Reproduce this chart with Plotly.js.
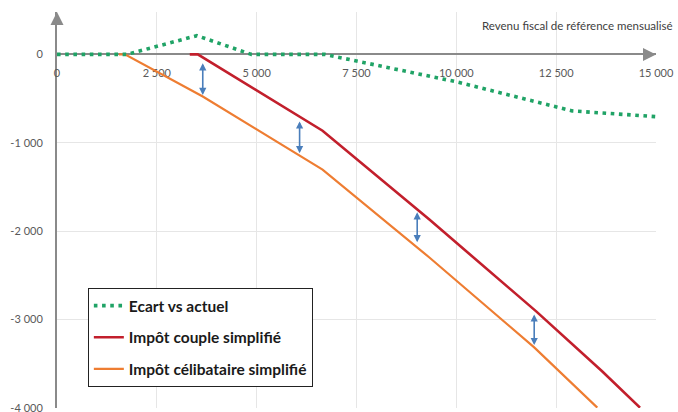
<!DOCTYPE html>
<html>
<head>
<meta charset="utf-8">
<script src="https://cdn.plot.ly/plotly-3.0.1.min.js"></script>
<style>html,body{margin:0;padding:0;background:#fff;}#chart{width:678px;height:412px;}</style>
</head>
<body>
<div id="chart"></div>
<script>
// Data
const ecartX = [0, 1750, 3500, 4870, 6700, 10000, 12900, 15000];
const ecartY = [0, 0, 212, 0, 0, -310, -640, -705];

const coupleX = [3325, 3525, 6650, 9325, 12000, 13650, 14600];
const coupleY = [0, 0, -864, -1870, -2910, -3588, -4000];

const celibX = [1550, 1700, 3650, 6650, 9325, 11950, 13530];
const celibY = [0, 0, -477, -1305, -2300, -3317, -4000];

// vertical double arrows between the two tax lines
const gapX = [3650, 6075, 9020, 11950];
const gapTop = [-100, -759, -1788, -2944];
const gapBottom = [-477, -1136, -2145, -3309];

const xTickVals = [0, 2500, 5000, 7500, 10000, 12500, 15000];
const xTickText = ['0', '2 500', '5 000', '7 500', '10 000', '12 500', '15 000'];
const yTickVals = [0, -1000, -2000, -3000, -4000];
const yTickText = ['0', '-1 000', '-2 000', '-3 000', '-4 000'];

const seriesNames = ['Ecart vs actuel', 'Impôt couple simplifié', 'Impôt célibataire simplifié'];
const axisTitle = 'Revenu fiscal de référence mensualisé';

const xRange = [0, 15000];
const yRange = [-4004, 480];

const FONT = 'Lato, "Open Sans", sans-serif';
const axisGray = '#8a8a8a';

const traces = [
  {x: ecartX, y: ecartY, name: seriesNames[0], mode: 'lines', legendgroup: 'a',
   line: {color: '#20a366', width: 3.6, dash: '3.6px,4.6px'}},
  {x: coupleX, y: coupleY, name: seriesNames[1], mode: 'lines', legendgroup: 'b',
   line: {color: '#c21f2c', width: 2.6}},
  {x: celibX, y: celibY, name: seriesNames[2], mode: 'lines', legendgroup: 'c',
   line: {color: '#ee7d32', width: 2.2}}
];
traces[0].legendrank = 1; traces[1].legendrank = 2; traces[2].legendrank = 3;
// draw green on top, legend order kept by rank
const data = [traces[1], traces[2], traces[0]];

const annotations = [];
for (let i = 0; i < gapX.length; i++) {
  annotations.push({
    x: gapX[i], y: gapTop[i], ax: gapX[i], ay: gapBottom[i],
    xref: 'x', yref: 'y', axref: 'x', ayref: 'y',
    text: '', showarrow: true, arrowside: 'end+start',
    arrowhead: 2, startarrowhead: 2, arrowsize: 0.9, startarrowsize: 0.9,
    arrowwidth: 1.6, arrowcolor: '#4a7ebb', standoff: 0, startstandoff: 0
  });
}
// axis arrow heads
annotations.push({x: xRange[1], y: 0, xref: 'x', yref: 'y', ax: -14, ay: 0, text: '',
  showarrow: true, arrowhead: 2, arrowsize: 1.3, arrowwidth: 2, arrowcolor: axisGray, standoff: 0});
annotations.push({x: 0, y: yRange[1], xref: 'x', yref: 'y', ax: 0, ay: 14, text: '',
  showarrow: true, arrowhead: 2, arrowsize: 1.3, arrowwidth: 2, arrowcolor: axisGray, standoff: 0});
// axis title
annotations.push({x: 1.031, y: 0.967, xref: 'paper', yref: 'paper', xanchor: 'right', yanchor: 'middle',
  text: axisTitle, showarrow: false, font: {family: FONT, size: 11.5, color: '#404040'}});

const zeroPos = (0 - yRange[0]) / (yRange[1] - yRange[0]);

const layout = {
  width: 678, height: 412,
  margin: {l: 57, r: 21.5, t: 12, b: 4},
  paper_bgcolor: '#ffffff', plot_bgcolor: '#ffffff',
  font: {family: FONT, size: 11, color: '#595959'},
  showlegend: true,
  legend: {
    x: 0.0515, y: 0.303, xanchor: 'left', yanchor: 'top',
    bgcolor: '#ffffff', bordercolor: '#222222', borderwidth: 1,
    font: {family: FONT, size: 15.5, color: '#1a1a1a', weight: 'bold'},
    tracegroupgap: 8.5, itemwidth: 30, traceorder: 'grouped'
  },
  xaxis: {
    range: xRange, tickmode: 'array', tickvals: xTickVals, ticktext: xTickText,
    showgrid: true, gridcolor: '#e6e6e6', gridwidth: 1, zeroline: false,
    showline: true, linecolor: axisGray, linewidth: 2,
    anchor: 'free', position: zeroPos, side: 'bottom', layer: 'below traces',
    ticks: '', ticklabelstandoff: 8, tickfont: {family: FONT, size: 11, color: '#595959'},
    fixedrange: true
  },
  yaxis: {
    range: yRange, tickmode: 'array', tickvals: yTickVals, ticktext: yTickText,
    showgrid: true, gridcolor: '#e6e6e6', gridwidth: 1, zeroline: false,
    showline: true, linecolor: axisGray, linewidth: 2, layer: 'below traces',
    ticks: '', ticklabelstandoff: 10, ticklabeloverflow: 'allow',
    tickfont: {family: FONT, size: 11, color: '#595959'},
    fixedrange: true
  },
  annotations: annotations
};

Plotly.newPlot('chart', data, layout, {displayModeBar: false, staticPlot: true});
</script>
</body>
</html>
